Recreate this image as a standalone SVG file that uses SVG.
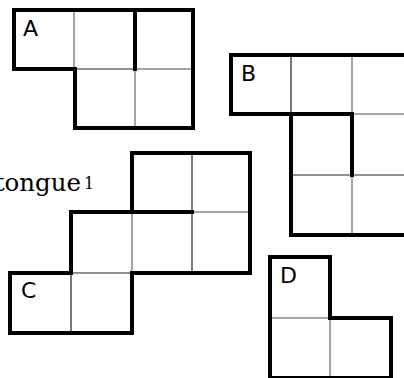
<svg xmlns="http://www.w3.org/2000/svg" width="404" height="378" viewBox="0 0 404 378">
<style>
.thick{fill:none;stroke:#000;stroke-width:4;stroke-linejoin:miter;stroke-linecap:square}
.thin{fill:none;stroke:#222;stroke-width:1.2}
.gray{fill:none;stroke:#888;stroke-width:1.5}
.lbl{font-family:"DejaVu Sans",sans-serif;font-size:22px;fill:#000}
.word{font-family:"DejaVu Serif",serif;font-size:24.5px;fill:#000}
.sup{font-family:"DejaVu Serif",serif;font-size:16px;fill:#000}
</style>
<rect width="404" height="378" fill="#fff"/>
<g id="text-tongue">
<text class="word" x="81" y="191" text-anchor="end">tongue</text>
<text class="sup" x="84" y="189">1</text>
</g>
<g id="A">
<path class="gray" d="M74,10V69M135,69H193M135,69V128"/>
<path class="thin" d="M75,69H135"/>
<path class="thick" d="M14,10H193V128H75V69H14Z"/>
<path class="thick" d="M135,10V69"/>
<text class="lbl" x="23" y="36">A</text>
</g>
<g id="B">
<path class="thin" d="M291,55V114M291,175H406"/>
<path class="gray" d="M352,55V114M352,114H406M352,175V235"/>
<path class="thick" d="M410,55H231V114H291V235H410"/>
<path class="thick" d="M291,114H352V175"/>
<text class="lbl" x="241" y="81">B</text>
</g>
<g id="C">
<path class="thin" d="M192,153V212M192,212V273M71,273H132M71,273V333"/>
<path class="gray" d="M192,212H250M132,212V273"/>
<path class="thick" d="M132,153H250V273H132V333H10V273H71V212H132Z"/>
<path class="thick" d="M132,212H192"/>
<text class="lbl" x="21" y="298">C</text>
</g>
<g id="D">
<path class="gray" d="M270,318H330M330,318V378"/>
<path class="thick" d="M270,257H330V318H391V378H270Z"/>
<text class="lbl" x="280" y="283">D</text>
</g>
<g id="connectors"></g>
</svg>
